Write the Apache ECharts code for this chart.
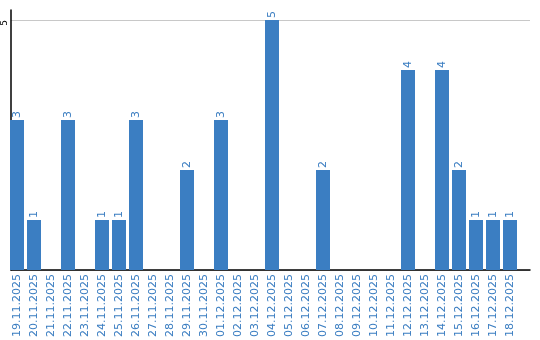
<!DOCTYPE html>
<html><head><meta charset="utf-8">
<script src="https://cdn.jsdelivr.net/npm/echarts@6/dist/echarts.min.js"></script>
<style>html,body{margin:0;padding:0;background:#fff}#c{width:540px;height:340px}</style>
</head><body><div id="c"></div>
<script>
const categories = ["19.11.2025","20.11.2025","21.11.2025","22.11.2025","23.11.2025","24.11.2025","25.11.2025","26.11.2025","27.11.2025","28.11.2025","29.11.2025","30.11.2025","01.12.2025","02.12.2025","03.12.2025","04.12.2025","05.12.2025","06.12.2025","07.12.2025","08.12.2025","09.12.2025","10.12.2025","11.12.2025","12.12.2025","13.12.2025","14.12.2025","15.12.2025","16.12.2025","17.12.2025","18.12.2025"];
const values = [3,1,0,3,0,1,1,3,0,0,2,0,3,0,0,5,0,0,2,0,0,0,0,4,0,4,2,1,1,1];
const yTicks = [5];
const yMax = 5.2;
const chart = echarts.init(document.getElementById('c'));
chart.setOption({
  animation: false,
  grid: [
    {left: 8.5, right: 21.5, top: 10, bottom: 70, containLabel: false},
    {left: 10, right: 10, top: 10, bottom: 70, containLabel: false}
  ],
  xAxis: [{
    gridIndex: 0, type: 'category', data: categories,
    axisLine: {show: false},
    axisTick: {show: false},
    axisLabel: {rotate: 90, interval: 0, color: '#3a7dc1', fontFamily: 'DejaVu Sans', fontSize: 11, margin: 4}
  }, {
    gridIndex: 1, type: 'category', data: categories,
    axisLine: {lineStyle: {color: '#000', width: 1.5}},
    axisTick: {show: false},
    axisLabel: {show: false}
  }],
  yAxis: [{
    gridIndex: 0, type: 'value', min: 0, max: yMax,
    axisLine: {show: false}, axisTick: {show: false}, axisLabel: {show: false}, splitLine: {show: false}
  }, {
    gridIndex: 1, type: 'value', min: 0, max: yMax, interval: 5,
    axisLine: {show: true, lineStyle: {color: '#000', width: 1.5}},
    axisTick: {show: false},
    splitLine: {showMaxLine: false, lineStyle: {color: '#c8c8c8'}},
    axisLabel: {rotate: 90, align: 'right', verticalAlign: 'bottom', color: '#000', fontFamily: 'DejaVu Sans', fontSize: 9, margin: 2,
      formatter: v => yTicks.includes(v) ? String(v) : ''}
  }],
  series: [{
    type: 'bar', xAxisIndex: 0, yAxisIndex: 0,
    data: values.map(v => v === 0 ? null : v),
    barWidth: 14,
    itemStyle: {color: '#3b7ec2'},
    label: {show: true, position: 'top', rotate: 90, align: 'left', verticalAlign: 'middle',
      distance: 2, color: '#3a7dc1', fontFamily: 'DejaVu Sans', fontSize: 11}
  }]
});
</script></body></html>
